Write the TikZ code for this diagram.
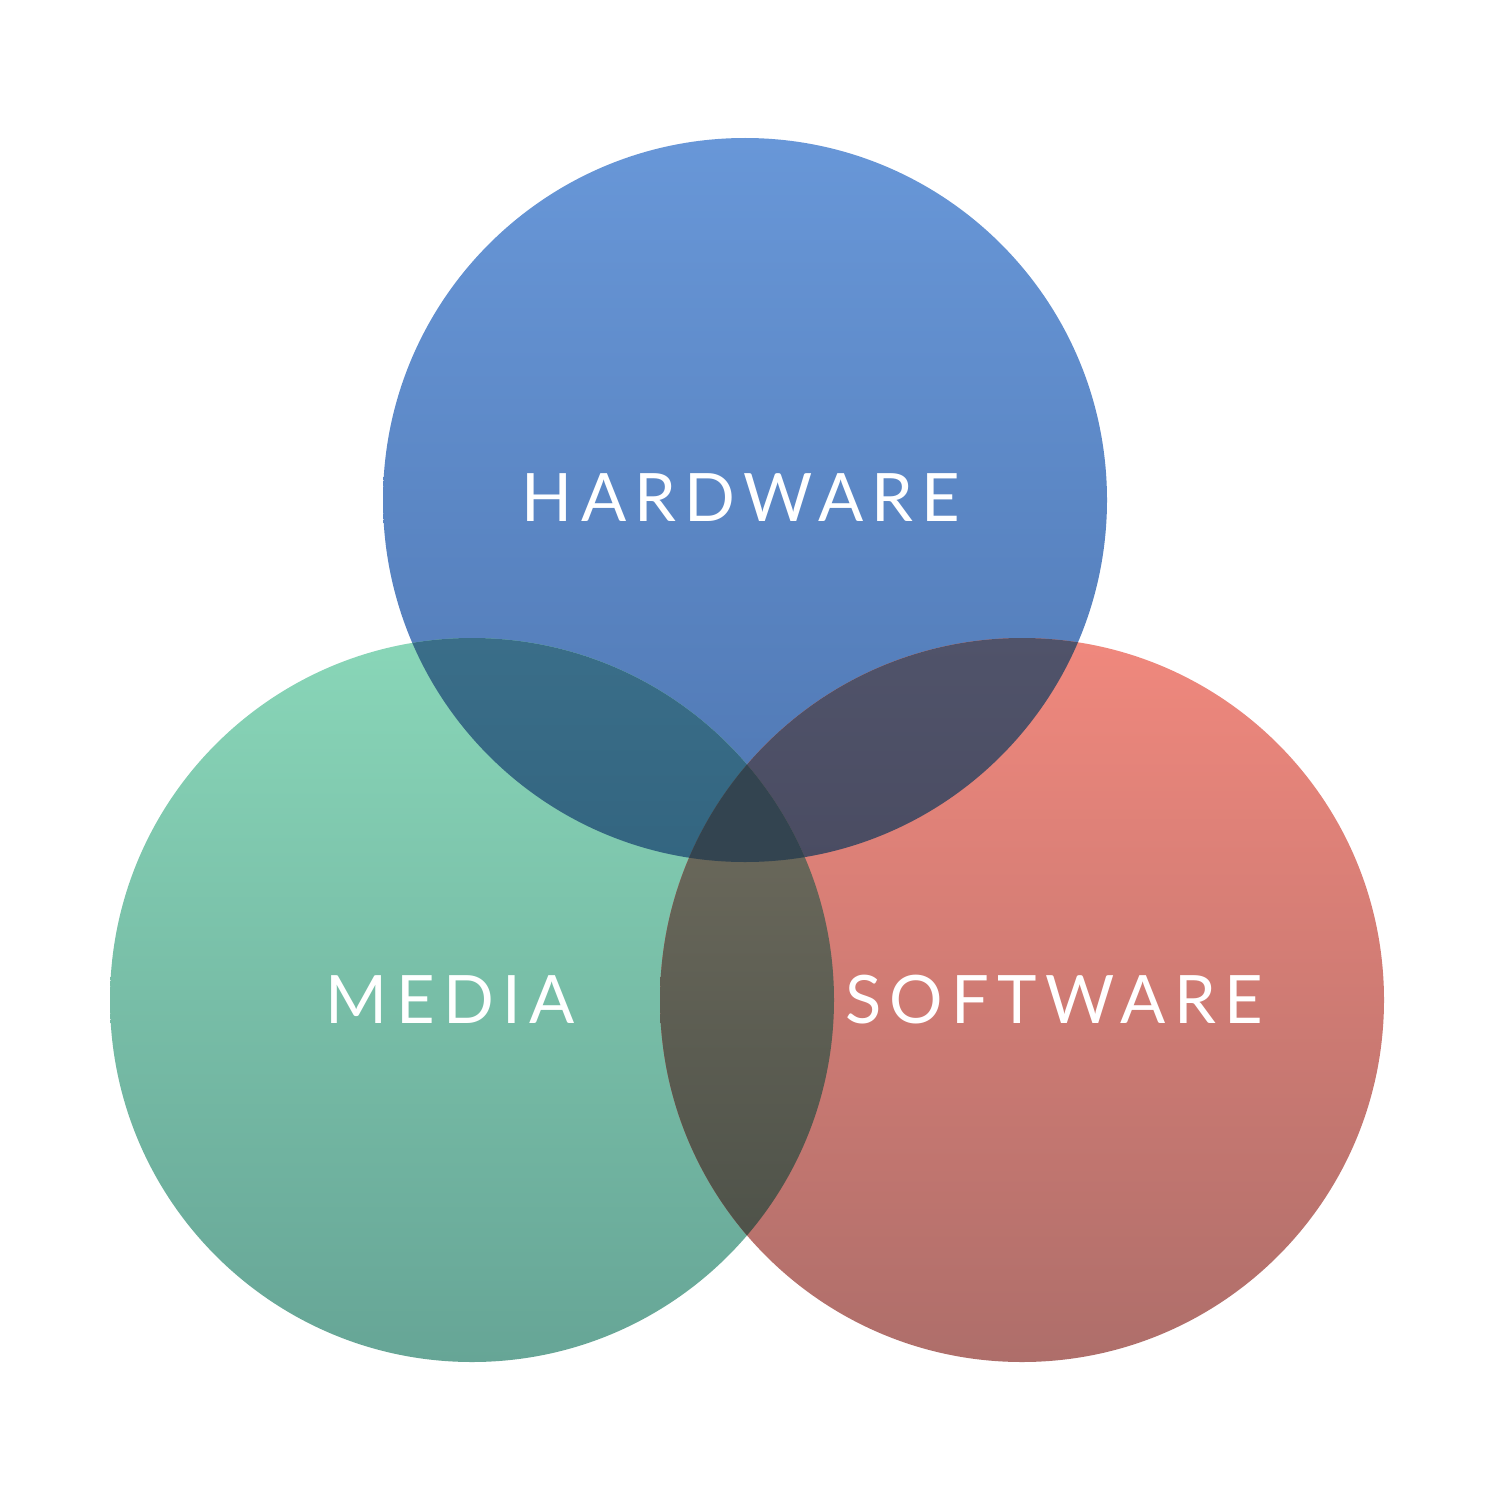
\documentclass[tikz,border=0pt]{standalone}
\usepackage{fontspec}
\setmainfont{Lato}[LetterSpace=12.5]
\definecolor{hwtop}{HTML}{6897D8}
\definecolor{hwbot}{HTML}{4F77B2}
\definecolor{mdtop}{HTML}{89D6B8}
\definecolor{mdbot}{HTML}{66A596}
\definecolor{swtop}{HTML}{F0887D}
\definecolor{swbot}{HTML}{AE6E6A}
\definecolor{hmtop}{HTML}{3A6E89}
\definecolor{hmbot}{HTML}{336580}
\definecolor{hstop}{HTML}{50536A}
\definecolor{hsbot}{HTML}{4A4C62}
\definecolor{mstop}{HTML}{6F6C5E}
\definecolor{msbot}{HTML}{4E5249}
\definecolor{allc}{HTML}{334450}
\tikzset{
  lbl/.style={text=white, font=\fontsize{19}{22}\selectfont, inner sep=0pt, anchor=base}
}
\def\hwc{(745,500) circle[radius=362]}
\def\mdc{(472,1000) circle[radius=362]}
\def\swc{(1022,1000) circle[radius=362]}
\begin{document}
\begin{tikzpicture}[x=0.01cm,y=-0.01cm]
\useasboundingbox (0,0) rectangle (1500,1500);
\fill[white] (0,0) rectangle (1500,1500);
% single circles
\shade[top color=hwtop, bottom color=hwbot] \hwc;
\shade[top color=mdtop, bottom color=mdbot] \mdc;
\shade[top color=swtop, bottom color=swbot] \swc;
% hardware & media
\begin{scope}
  \clip \hwc; \clip \mdc;
  \shade[top color=hmtop, bottom color=hmbot] (380,637) rectangle (840,863);
\end{scope}
% hardware & software
\begin{scope}
  \clip \hwc; \clip \swc;
  \shade[top color=hstop, bottom color=hsbot] (650,637) rectangle (1110,863);
\end{scope}
% media & software
\begin{scope}
  \clip \mdc; \clip \swc;
  \shade[top color=mstop, bottom color=msbot] (655,755) rectangle (840,1245);
\end{scope}
% all three
\begin{scope}
  \clip \hwc; \clip \mdc; \clip \swc;
  \fill[allc] (650,740) rectangle (840,870);
\end{scope}
\node[lbl] (hw) at (741,521) {HARDWARE};
\node[lbl] (md) at (450,1023) {MEDIA};
\node[lbl] (sw) at (1054,1023) {SOFTWARE};
\end{tikzpicture}
\end{document}
